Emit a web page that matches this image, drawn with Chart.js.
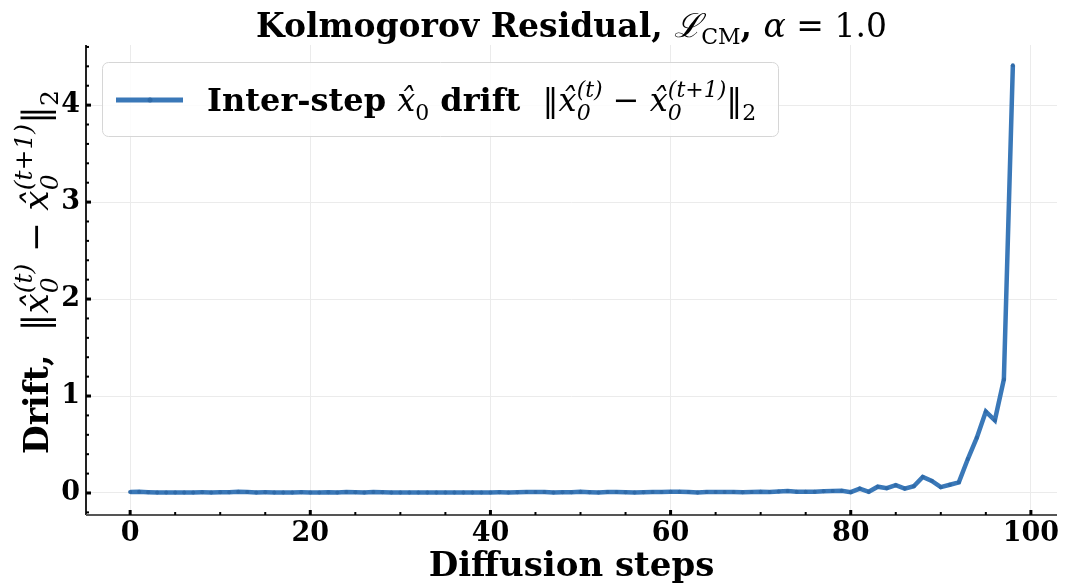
<!DOCTYPE html>
<html>
<head>
<meta charset="utf-8">
<script src="https://cdn.jsdelivr.net/npm/chart.js@4.4.1/dist/chart.umd.min.js"></script>
<style>
  html, body { margin: 0; padding: 0; background: #fff; }
  canvas { display: block; }
</style>
</head>
<body>
<canvas id="grafico" width="1065" height="586"></canvas>
<script>
// datos
const drift = [
  0.010, 0.012, 0.008, 0.006, 0.005, 0.004, 0.005, 0.006, 0.007, 0.006,
  0.008, 0.007, 0.012, 0.009, 0.006, 0.007, 0.006, 0.005, 0.006, 0.007,
  0.006, 0.006, 0.007, 0.005, 0.009, 0.007, 0.006, 0.010, 0.007, 0.005,
  0.006, 0.005, 0.006, 0.005, 0.006, 0.006, 0.005, 0.005, 0.006, 0.006,
  0.006, 0.007, 0.006, 0.008, 0.011, 0.009, 0.010, 0.006, 0.008, 0.007,
  0.012, 0.008, 0.006, 0.009, 0.010, 0.008, 0.006, 0.008, 0.009, 0.011,
  0.012, 0.014, 0.011, 0.004, 0.009, 0.011, 0.010, 0.009, 0.007, 0.010,
  0.014, 0.011, 0.016, 0.020, 0.013, 0.012, 0.013, 0.018, 0.020, 0.022,
  0.008, 0.045, 0.012, 0.065, 0.050, 0.080, 0.045, 0.070, 0.165, 0.125,
  0.060, 0.085, 0.110, 0.350, 0.570, 0.840, 0.750, 1.170, 4.410
];
const steps = drift.map((_, i) => i);
const xTicks = [0, 20, 40, 60, 80, 100];
const yTicks = [0, 1, 2, 3, 4];

const SERIF = '"DejaVu Serif", serif';
const COLOR = "#3a78b8";

// texto con sub/superindices
function runsWidth(ctx, runs) {
  let w = 0;
  runs.forEach(r => {
    ctx.font = r.f;
    if (r.ss) w += Math.max(ctx.measureText(r.sup).width, ctx.measureText(r.sub).width);
    else w += ctx.measureText(r.t).width;
  });
  return w;
}
function drawRuns(ctx, runs, x, y) {
  let cx = x;
  runs.forEach(r => {
    ctx.font = r.f;
    if (r.ss) {
      ctx.fillText(r.sup, cx, y + r.supDy);
      ctx.fillText(r.sub, cx, y + r.subDy);
      cx += Math.max(ctx.measureText(r.sup).width, ctx.measureText(r.sub).width);
    } else {
      ctx.fillText(r.t, cx, y + (r.dy || 0));
      cx += ctx.measureText(r.t).width;
    }
  });
}

function mathNorm(size) {
  const s = Math.round(size * 0.7);
  const R = `${size}px ${SERIF}`, I = `italic ${size}px ${SERIF}`, S = `italic ${s}px ${SERIF}`, SR = `${s}px ${SERIF}`;
  return [
    { t: "‖", f: R },
    { t: "x̂", f: I },
    { ss: true, sup: "(t)", sub: "0", f: S, supDy: -size * 0.45, subDy: size * 0.28 },
    { t: " − ", f: R },
    { t: "x̂", f: I },
    { ss: true, sup: "(t+1)", sub: "0", f: S, supDy: -size * 0.45, subDy: size * 0.28 },
    { t: "‖", f: R },
    { t: "2", f: SR, dy: size * 0.28 }
  ];
}

const tituloRuns = [
  { t: "Kolmogorov Residual, ", f: `bold 33px ${SERIF}` },
  { t: "ℒ", f: `italic 33px ${SERIF}` },
  { t: "CM", f: `22px ${SERIF}`, dy: 7 },
  { t: ", ", f: `bold 33px ${SERIF}` },
  { t: "α", f: `italic 33px ${SERIF}` },
  { t: " = 1.0", f: `33px ${SERIF}` }
];
const yLabelRuns = [{ t: "Drift,  ", f: `bold 33px ${SERIF}` }].concat(mathNorm(36));
const legendRuns = [
  { t: "Inter-step ", f: `bold 32px ${SERIF}` },
  { t: "x̂", f: `italic 32px ${SERIF}` },
  { t: "0", f: `22px ${SERIF}`, dy: 9 },
  { t: " drift  ", f: `bold 32px ${SERIF}` }
].concat(mathNorm(32));

const decoracion = {
  id: "decoracion",
  beforeDatasetsDraw(chart) {
    const { ctx, chartArea: a } = chart;
    ctx.save();
    ctx.lineWidth = 2;
    ctx.strokeStyle = "#222";
    ctx.beginPath();
    ctx.moveTo(a.left, a.top);
    ctx.lineTo(a.left, a.bottom);
    ctx.stroke();
    ctx.strokeStyle = "#555";
    ctx.beginPath();
    ctx.moveTo(a.left, a.bottom);
    ctx.lineTo(a.right, a.bottom);
    ctx.stroke();
    ctx.restore();
  },
  afterDraw(chart) {
    const { ctx, chartArea: a, scales } = chart;
    const xs = scales.x, ys = scales.y;
    ctx.save();
    ctx.fillStyle = "#000";

    // marcas hacia dentro
    for (let v = 0; v <= 100; v += 5) {
      const px = xs.getPixelForValue(v);
      const mayor = v % 20 === 0;
      ctx.fillRect(px - (mayor ? 1.5 : 1), a.bottom - (mayor ? 5 : 3), mayor ? 3 : 2, mayor ? 5 : 3);
    }
    for (let i = -1; i <= 23; i++) {
      const py = ys.getPixelForValue(i * 0.2);
      if (py < a.top || py > a.bottom) continue;
      const mayor = i % 5 === 0;
      ctx.fillRect(a.left, py - (mayor ? 1.5 : 1), mayor ? 5 : 3, mayor ? 3 : 2);
    }

    // titulo
    ctx.textBaseline = "alphabetic";
    ctx.textAlign = "left";
    const tw = runsWidth(ctx, tituloRuns);
    drawRuns(ctx, tituloRuns, (a.left + a.right) / 2 - tw / 2, 37);

    // etiqueta eje x
    ctx.font = `bold 34px ${SERIF}`;
    ctx.textAlign = "center";
    ctx.fillText("Diffusion steps", (a.left + a.right) / 2, 576);

    // etiqueta eje y
    ctx.textAlign = "left";
    const yw = runsWidth(ctx, yLabelRuns);
    ctx.translate(48, 272);
    ctx.rotate(-Math.PI / 2);
    drawRuns(ctx, yLabelRuns, -yw / 2, 0);
    ctx.restore();

    // leyenda
    ctx.save();
    const lx = 102, ly = 62, lw = 676, lh = 74;
    ctx.fillStyle = "rgba(255,255,255,0.85)";
    ctx.strokeStyle = "#d6d6d6";
    ctx.lineWidth = 1;
    ctx.beginPath();
    ctx.roundRect(lx + 0.5, ly + 0.5, lw, lh, 6);
    ctx.fill();
    ctx.stroke();
    ctx.strokeStyle = COLOR;
    ctx.lineWidth = 5;
    ctx.beginPath();
    ctx.moveTo(116, 100);
    ctx.lineTo(183, 100);
    ctx.stroke();
    ctx.fillStyle = "#2f6aa8";
    ctx.beginPath();
    ctx.arc(150, 100, 2.5, 0, Math.PI * 2);
    ctx.fill();
    ctx.fillStyle = "#000";
    ctx.textAlign = "left";
    drawRuns(ctx, legendRuns, 207, 111);
    ctx.restore();
  }
};

new Chart(document.getElementById("grafico"), {
  type: "line",
  data: {
    datasets: [{
      label: "Inter-step drift",
      data: steps.map((s, i) => ({ x: s, y: drift[i] })),
      borderColor: COLOR,
      borderWidth: 4.5,
      pointRadius: 2,
      pointBackgroundColor: "#2f6aa8",
      pointBorderWidth: 0,
      tension: 0,
      clip: false
    }]
  },
  options: {
    responsive: false,
    animation: false,
    layout: { padding: { top: 45, right: 8, left: 0, bottom: 0 } },
    plugins: { legend: { display: false }, tooltip: { enabled: false } },
    scales: {
      x: {
        type: "linear",
        min: -4.9,
        max: 102.9,
        afterFit: s => { s.height = 71; },
        afterBuildTicks: s => { s.ticks = xTicks.map(v => ({ value: v })); },
        border: { display: false },
        grid: { color: "#ebebeb", lineWidth: 1, drawTicks: false },
        ticks: {
          padding: 3,
          color: "#000",
          font: { family: SERIF, size: 27, weight: "bold" },
          maxRotation: 0
        }
      },
      y: {
        min: -0.227,
        max: 4.62,
        afterFit: s => { s.width = 86; },
        afterBuildTicks: s => { s.ticks = yTicks.map(v => ({ value: v })); },
        border: { display: false },
        grid: { color: "#ebebeb", lineWidth: 1, drawTicks: false },
        ticks: {
          padding: 6,
          color: "#000",
          font: { family: SERIF, size: 27, weight: "bold" }
        }
      }
    }
  },
  plugins: [decoracion]
});
</script>
</body>
</html>
